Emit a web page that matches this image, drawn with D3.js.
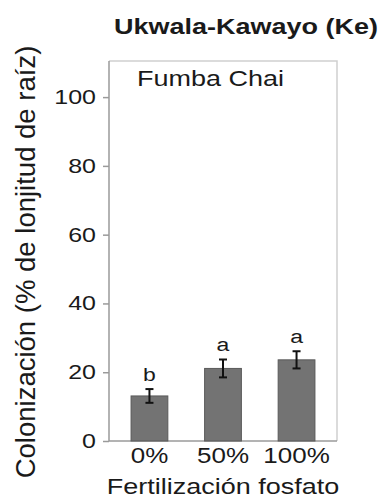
<!DOCTYPE html>
<html>
<head>
<meta charset="utf-8">
<script src="https://cdn.jsdelivr.net/npm/d3@7"></script>
<style>
  body { margin: 0; background: #fff; }
  svg text { font-family: "Liberation Sans", Arial, sans-serif; fill: #1a1a1a; }
  .squash { transform-box: fill-box; transform-origin: center; transform: scaleY(0.82); }
</style>
</head>
<body>
<svg id="chart"></svg>
<script>
// data
const categories = ['0%', '50%', '100%'];
const means = [13.1, 21.1, 23.6];
const errors = [2.0, 2.6, 2.5];
const letters = ['b', 'a', 'a'];
const yTicks = [0, 20, 40, 60, 80, 100];

const width = 385, height = 501;
const plotLeft = 109, plotRight = 337, plotTop = 61, plotBottom = 441;

const svg = d3.select('#chart')
  .attr('width', width)
  .attr('height', height);

const x = d3.scaleBand()
  .domain(categories)
  .range([plotLeft, plotRight])
  .paddingInner(0.5)
  .paddingOuter(0.3);

const y = d3.scaleLinear()
  .domain([0, 110.5])
  .range([plotBottom, plotTop]);

// frame top / right (lighter)
svg.append('path')
  .attr('d', `M${plotLeft},${plotTop}H${plotRight}V${plotBottom}`)
  .attr('fill', 'none')
  .attr('stroke', '#d0d0d0')
  .attr('stroke-width', 1.5);

// y axis
const yAxis = svg.append('g')
  .attr('transform', `translate(${plotLeft},0)`)
  .call(d3.axisLeft(y).tickValues(yTicks).tickSize(6).tickPadding(7).tickSizeOuter(0));
yAxis.selectAll('text')
  .attr('class', 'squash')
  .attr('font-size', 25);

// x axis
const xAxis = svg.append('g')
  .attr('transform', `translate(0,${plotBottom})`)
  .call(d3.axisBottom(x).tickSize(0).tickSizeOuter(0));
xAxis.selectAll('text')
  .attr('class', 'squash')
  .attr('font-size', 26)
  .attr('y', 24)
  .attr('dy', 0);

svg.selectAll('.domain, .tick line')
  .attr('stroke', '#9a9a9a')
  .attr('stroke-width', 1.5);
yAxis.select('.domain').attr('d', `M0,${plotTop}V${plotBottom}`);
xAxis.select('.domain').attr('d', `M${plotLeft},0H${plotRight}`);

// bars
svg.append('g').selectAll('rect')
  .data(means)
  .join('rect')
  .attr('x', (d, i) => x(categories[i]))
  .attr('y', d => y(d))
  .attr('width', x.bandwidth())
  .attr('height', d => y(0) - y(d))
  .attr('fill', '#737373')
  .attr('stroke', '#5a5a5a')
  .attr('stroke-width', 1);

// error bars
const eb = svg.append('g').attr('stroke', '#111').attr('stroke-width', 2);
means.forEach((m, i) => {
  const cx = x(categories[i]) + x.bandwidth() / 2;
  const y1 = y(m + errors[i]), y2 = y(m - errors[i]);
  eb.append('line').attr('x1', cx).attr('x2', cx).attr('y1', y1).attr('y2', y2);
  eb.append('line').attr('x1', cx - 4).attr('x2', cx + 4).attr('y1', y1).attr('y2', y1);
  eb.append('line').attr('x1', cx - 4).attr('x2', cx + 4).attr('y1', y2).attr('y2', y2);
});

// significance letters
svg.append('g').selectAll('text')
  .data(letters)
  .join('text')
  .attr('x', (d, i) => x(categories[i]) + x.bandwidth() / 2)
  .attr('y', (d, i) => y(means[i] + errors[i]) - 7)
  .attr('text-anchor', 'middle')
  .attr('font-size', 23)
  .attr('class', 'squash')
  .text(d => d);

// title
svg.append('text')
  .attr('x', 246)
  .attr('y', 36)
  .attr('text-anchor', 'middle')
  .attr('font-size', 27)
  .attr('font-weight', 'bold')
  .attr('class', 'squash')
  .text('Ukwala-Kawayo (Ke)');

// panel label
svg.append('text')
  .attr('x', 137)
  .attr('y', 88)
  .attr('font-size', 27)
  .attr('class', 'squash')
  .text('Fumba Chai');

// x label
svg.append('text')
  .attr('x', (plotLeft + plotRight) / 2)
  .attr('y', 496)
  .attr('text-anchor', 'middle')
  .attr('font-size', 27)
  .attr('class', 'squash')
  .text('Fertilización fosfato');

// y label
svg.append('text')
  .attr('transform', 'rotate(-90)')
  .attr('x', -262)
  .attr('y', 35)
  .attr('text-anchor', 'middle')
  .attr('font-size', 27.5)
  .text('Colonización (% de lonjitud de raíz)');
</script>
</body>
</html>
